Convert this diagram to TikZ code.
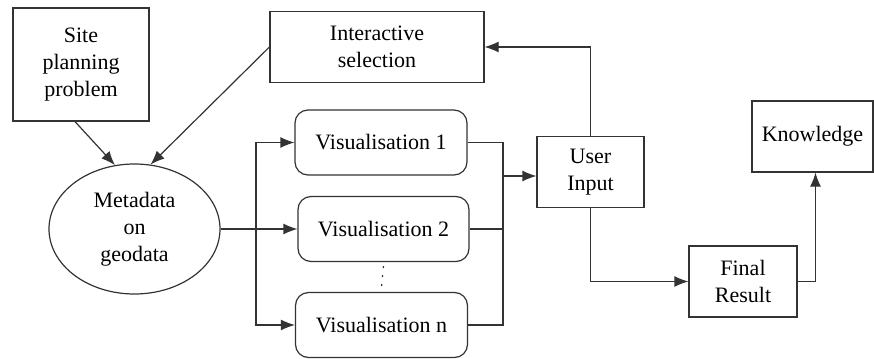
\documentclass[tikz,border=0pt]{standalone}
\usepackage{fontspec}
\setmainfont{Liberation Serif}
\usetikzlibrary{shapes.geometric, arrows.meta}
\tikzstyle{rect} = [rectangle, minimum width=54pt, minimum height=35.5pt, text centered, align=center, draw=black!80, line width=0.6pt]
\tikzstyle{vis} = [rectangle, rounded corners=6.5pt, minimum width=86pt, minimum height=32.5pt, text centered, draw=black!80, line width=0.6pt]
\tikzstyle{ell} = [ellipse, inner sep=0pt, minimum width=85.5pt, minimum height=65pt, text centered, align=center, draw=black!80, line width=0.6pt]
\tikzstyle{arrow} = [line width=0.6pt, draw=black!80, -{Latex[length=7pt,width=5.5pt]}]
\tikzstyle{line} = [line width=0.6pt, draw=black!80]

\begin{document}
\begin{tikzpicture}[x=0.5pt, y=-0.5pt, font=\fontsize{11}{13.5}\selectfont]
        \useasboundingbox (0,0) rectangle (874,359);
        \node (site) [rect, minimum width=68pt, minimum height=56.5pt] at (81,64.5) {Site\\planning\\problem};
        \node (select) [rect, minimum width=107pt] at (377,47) {Interactive\\selection};
        \node (meta) [ell] at (134.5,229) {Metadata\\on\\geodata};
        \node (vis1) [vis] at (381,142.5) {Visualisation 1};
        \node (vis2) [vis, minimum width=85.5pt] at (383.5,229) {Visualisation 2};
        \node (visn) [vis] at (381.5,325) {Visualisation n};
        \node (user) [rect, minimum width=53.5pt] at (590.5,172) {User\\Input};
        \node (final) [rect] at (743,281.5) {Final\\Result};
        \node (know) [rect, minimum width=60.5pt] at (812.5,136.5) {Knowledge};

        \draw [arrow] ([xshift=-3pt]site.south) -- (meta.107);
        \draw [arrow] (select.west) -- (meta.76);

        \draw [arrow] (meta.east) -- (vis2.west);
        \coordinate (split) at (256,229);
        \draw [arrow] (split) |- (vis1.west);
        \draw [arrow] (split) |- (visn.west);

        \draw [line, dash pattern=on 1pt off 3.5pt] ([yshift=-2pt]vis2.south) -- ([yshift=2.5pt]visn.north);

        \coordinate (join) at (503,176);
        \draw [line] (vis1.east) -| (join);
        \draw [line] (visn.east) -| (join);
        \draw [line] (vis2.east) -- (vis2.east -| join);
        \draw [arrow] (join) -- (join -| user.west);

        \draw [arrow] (user.north) |- (select.east);
        \draw [arrow] (user.south) |- (final.west);
        \draw [arrow] (final.east) -| ([xshift=1.5pt]know.south);
\end{tikzpicture}
\end{document}
